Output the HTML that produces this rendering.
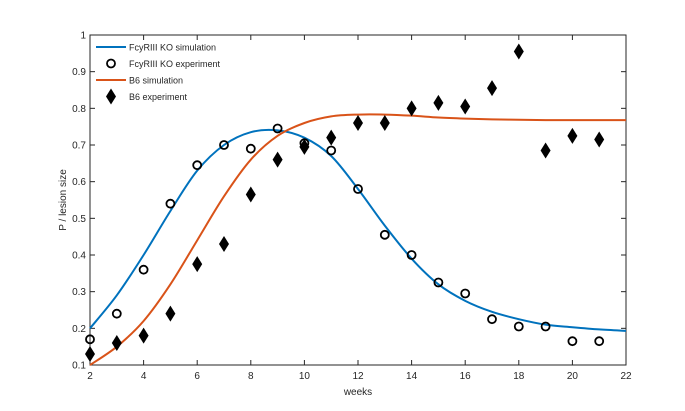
<!DOCTYPE html>
<html><head><meta charset="utf-8"><style>
body{margin:0;background:#fff}
svg text{font-family:"Liberation Sans",sans-serif;font-size:10px;fill:#262626}
</style></head><body>
<svg id="chart" width="685" height="406"></svg>
<script>
const xTicks=[2,4,6,8,10,12,14,16,18,20,22];
const yTicks=[0.1,0.2,0.3,0.4,0.5,0.6,0.7,0.8,0.9,1];
const yTickLabels=["0.1","0.2","0.3","0.4","0.5","0.6","0.7","0.8","0.9","1"];
const expWeeks=[2,3,4,5,6,7,8,9,10,11,12,13,14,15,16,17,18,19,20,21];
const koExp=[0.17,0.24,0.36,0.54,0.645,0.70,0.69,0.745,0.705,0.685,0.58,0.455,0.40,0.325,0.295,0.225,0.205,0.205,0.165,0.165];
const b6Exp=[0.13,0.16,0.18,0.24,0.375,0.43,0.565,0.66,0.695,0.72,0.76,0.76,0.80,0.815,0.805,0.855,0.955,0.685,0.725,0.715];
const simWeeks=[2,3,4,5,6,7,8,9,10,11,12,13,14,15,16,17,18,19,20,21,22];
const koSim=[0.2,0.29,0.40,0.52,0.63,0.70,0.735,0.74,0.72,0.67,0.58,0.48,0.39,0.32,0.275,0.245,0.225,0.21,0.203,0.197,0.193];
const b6Sim=[0.1,0.15,0.22,0.32,0.44,0.56,0.66,0.725,0.76,0.778,0.783,0.783,0.78,0.775,0.772,0.77,0.769,0.768,0.768,0.768,0.768];
const L=90,R=626,T=35,B=365;
const X=v=>L+(v-2)/20*(R-L), Y=v=>B-(v-0.1)/0.9*(B-T);
const svg=document.getElementById('chart'),NS='http://www.w3.org/2000/svg';
function mk(t,a,p){const e=document.createElementNS(NS,t);for(const k in a)e.setAttribute(k,a[k]);(p||svg).appendChild(e);return e;}
let e=mk('rect',{x:L,y:T,width:R-L,height:B-T,fill:'none',stroke:'#262626','stroke-width':1});


xTicks.forEach(v=>{const x=X(v);
mk('line',{x1:x,x2:x,y1:B,y2:B-5,stroke:'#262626'});mk('line',{x1:x,x2:x,y1:T,y2:T+5,stroke:'#262626'});
const t=mk('text',{x:x,y:B+14,'text-anchor':'middle'});t.textContent=v;

});
yTicks.forEach((v,i)=>{const y=Y(v);
mk('line',{x1:L,x2:L+5,y1:y,y2:y,stroke:'#262626'});mk('line',{x1:R,x2:R-5,y1:y,y2:y,stroke:'#262626'});
const t=mk('text',{x:L-4,y:y+3.5,'text-anchor':'end'});t.textContent=yTickLabels[i];

});
let xl=mk('text',{x:(L+R)/2,y:395,'text-anchor':'middle'});xl.textContent='weeks';


let yl=mk('text',{x:0,y:0,'text-anchor':'middle',transform:`translate(66,${(T+B)/2}) rotate(-90)`});yl.textContent='P / lesion size';


function line(xs,ys,c,n){const P=xs.map((x,i)=>[X(x),Y(ys[i])]);
let d='M'+P[0][0]+','+P[0][1];
for(let i=0;i<P.length-1;i++){const p0=P[Math.max(0,i-1)],p1=P[i],p2=P[i+1],p3=P[Math.min(P.length-1,i+2)];
const c1=[p1[0]+(p2[0]-p0[0])/6,p1[1]+(p2[1]-p0[1])/6],c2=[p2[0]-(p3[0]-p1[0])/6,p2[1]-(p3[1]-p1[1])/6];
d+=`C${c1[0]},${c1[1]} ${c2[0]},${c2[1]} ${p2[0]},${p2[1]}`;}
const p=mk('path',{d:d,fill:'none',stroke:c,'stroke-width':2,'stroke-linejoin':'round'});

}
line(simWeeks,koSim,'#0072BD','ko-simulation-line');
line(simWeeks,b6Sim,'#D95319','b6-simulation-line');
function circ(x,y){return mk('circle',{cx:x,cy:y,r:4,fill:'none',stroke:'#000','stroke-width':1.8});}
function dia(x,y){return mk('path',{d:`M${x},${y-8}L${x+5},${y}L${x},${y+8}L${x-5},${y}Z`,fill:'#000'});}
expWeeks.forEach((w,i)=>{const c=circ(X(w),Y(koExp[i]));


const d=dia(X(w),Y(b6Exp[i]));

});
const lg=mk('g',{});


const items=[['FcyRIII KO simulation','l','#0072BD'],['FcyRIII KO experiment','c'],['B6 simulation','l','#D95319'],['B6 experiment','d']];
items.forEach((it,i)=>{const y=47+i*16.5;
if(it[1]=='l')mk('line',{x1:96,x2:126,y1:y,y2:y,stroke:it[2],'stroke-width':2},lg);
else if(it[1]=='c'){mk('circle',{cx:111,cy:y,r:4,fill:'none',stroke:'#000','stroke-width':1.8},lg);}
else mk('path',{d:`M111,${y-8}L116,${y}L111,${y+8}L106,${y}Z`,fill:'#000'},lg);
const t=mk('text',{x:129,y:y+3.5},lg);t.style.fontSize='9px';t.textContent=it[0];

});
</script>
</body></html>
